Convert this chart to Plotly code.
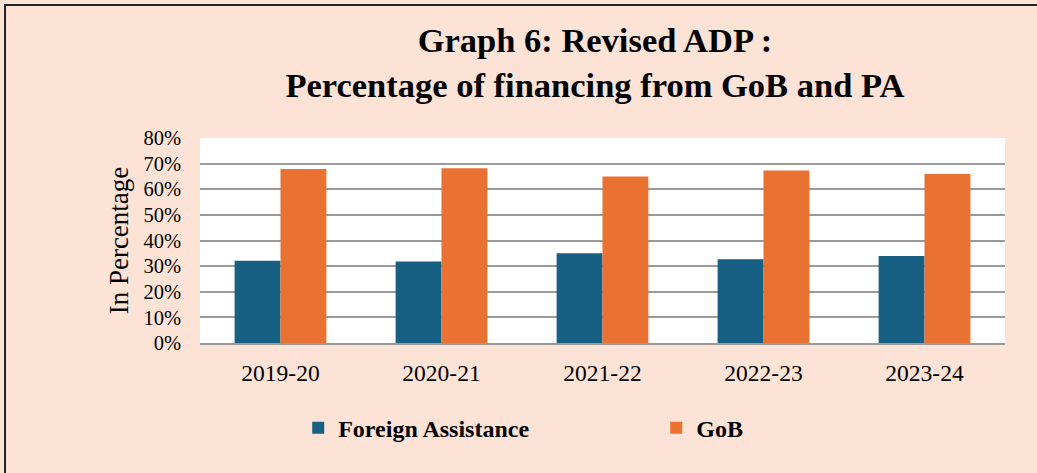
import plotly.graph_objects as go

# data
years = ["2019-20", "2020-21", "2021-22", "2022-23", "2023-24"]
foreign_assistance = [32.1, 31.8, 35.0, 32.7, 34.0]
gob = [67.9, 68.2, 65.0, 67.3, 66.0]
y_ticks = [0, 10, 20, 30, 40, 50, 60, 70, 80]

bg = "#FCE3D6"
blue = "#176083"
orange = "#E97132"
serif = "Liberation Serif, Times New Roman, serif"

fig = go.Figure()
fig.add_trace(go.Bar(x=years, y=foreign_assistance, name="<b>Foreign Assistance</b>",
                     marker=dict(color=blue, line=dict(width=0))))
fig.add_trace(go.Bar(x=years, y=gob, name="<b>GoB</b>",
                     marker=dict(color=orange, line=dict(width=0))))

# outer frame of the chart box
fig.add_shape(type="rect", xref="paper", yref="paper",
              x0=-0.2422, x1=1.05, y0=-0.70, y1=1.6488,
              line=dict(color="#222222", width=2), layer="below")

fig.update_layout(
    width=1037, height=473,
    margin=dict(l=200, r=32, t=138, b=130),
    paper_bgcolor=bg, plot_bgcolor="white",
    font=dict(family=serif, color="black", size=20),
    title=dict(text="<b>Graph 6: Revised ADP :<br>Percentage of financing from GoB and PA</b>",
               x=0.5737, xanchor="center", y=0.89, yanchor="top",
               font=dict(family=serif, size=34.5, color="black")),
    barmode="group", bargap=0.43, bargroupgap=0,
    showlegend=True,
    legend=dict(orientation="h", x=0.122, xanchor="left", y=-0.415, yanchor="middle",
                entrywidth=313, entrywidthmode="pixels",
                font=dict(family=serif, size=24, color="black"),
                bgcolor="rgba(0,0,0,0)", traceorder="normal"),
)
fig.update_yaxes(range=[0, 80], tickvals=y_ticks, ticktext=[f"{v}%" for v in y_ticks],
                 showgrid=True, gridcolor="#9a9a9a", gridwidth=1.5,
                 zeroline=False, showline=False, ticks="", ticklabelstandoff=18,
                 title=dict(text="In Percentage", font=dict(family=serif, size=27), standoff=6),
                 tickfont=dict(family=serif, size=20.5))
fig.update_xaxes(showline=True, linecolor="#9a9a9a", linewidth=1.5, ticks="",
                 tickfont=dict(family=serif, size=23.5), ticklabelstandoff=8)

fig.write_html("out.html", config={"displayModeBar": False},
               post_script="document.body.style.margin='0';")
